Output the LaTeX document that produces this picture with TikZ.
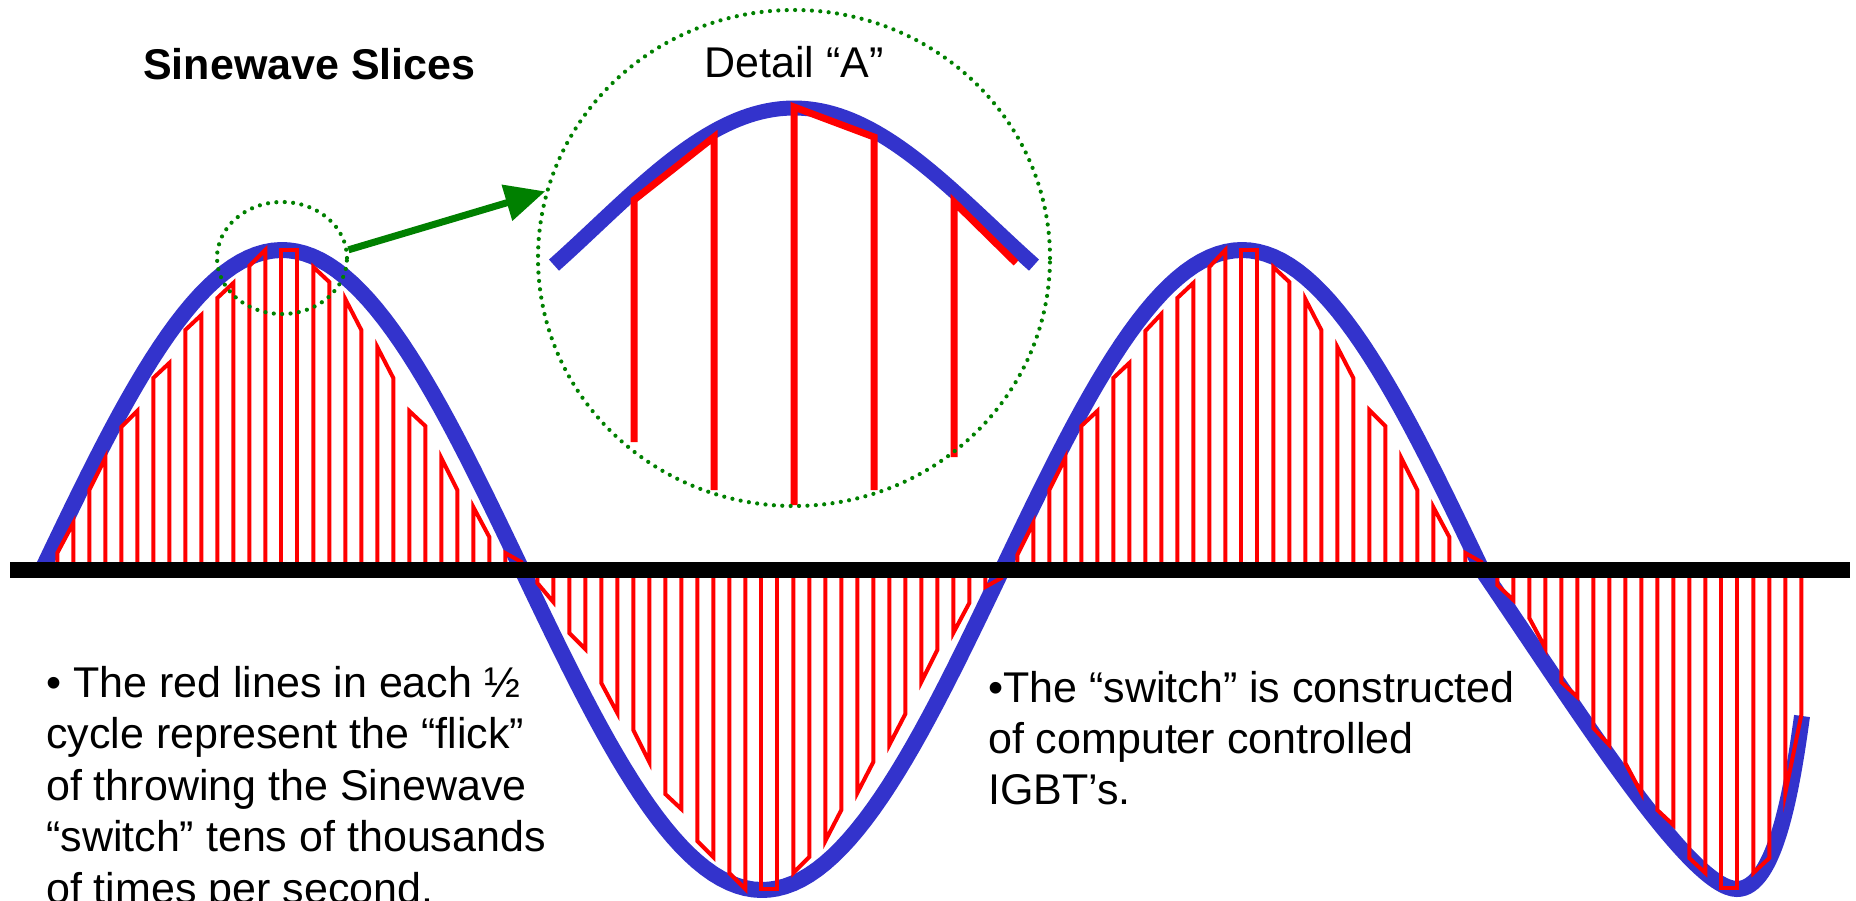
\documentclass[tikz,border=0pt]{standalone}
\usepackage{fontspec}
\setmainfont{Liberation Sans}
\usepackage{tikz}
\usetikzlibrary{shapes.geometric, arrows.meta, positioning}

\definecolor{waveblue}{RGB}{51,51,204}
\definecolor{zoomgreen}{RGB}{0,128,0}
\definecolor{pulsered}{RGB}{255,0,0}

\begin{document}
\begin{tikzpicture}[
  x=1pt, y=-1pt,
  wave/.style      = {draw=waveblue, line width=16pt},
  detailwave/.style = {draw=waveblue, line width=15pt},
  pulse/.style     = {draw=pulsered, line width=4pt},
  bigpulse/.style  = {draw=pulsered, line width=7pt},
  axisline/.style  = {draw=black, line width=16pt},
  zoomring/.style  = {draw=zoomgreen, ellipse, line width=4.2pt,
                      dash pattern=on 0pt off 8.4pt, line cap=round, inner sep=0pt},
  zoomarr/.style   = {draw=zoomgreen, line width=7pt,
                      -{Triangle[length=40pt, width=36pt]}},
  titletext/.style = {font=\fontsize{43}{52}\selectfont\bfseries, inner sep=0pt},
  labeltext/.style = {font=\fontsize{43}{52}\selectfont, inner sep=0pt},
  bodytext/.style  = {font=\fontsize{43}{52}\selectfont, anchor=base west, inner sep=0pt},
]
\useasboundingbox (0,0) rectangle (1856,900);

%% ── TITULOS ───────────────────────────────────────────────────────────────
\node[titletext, anchor=base west] (title) at (143,79) {Sinewave Slices};
\node[labeltext, anchor=base] (detailtitle) at (794,77) {Detail “A”};

%% ── ONDA SENOIDAL ─────────────────────────────────────────────────────────
\draw[wave] plot[domain=40:1482, samples=181] (\x, {570-320*sin(0.375*(\x-42))})
      .. controls (1580,714) and (1690,889) .. (1737,889)
      .. controls (1775,889) and (1792,790) .. (1802,716);

%% ── REBANADAS (pares de lineas rojas) ─────────────────────────────────────
\foreach \a/\b [count=\j from 0] in {
    17/47, 80/112, 143/159, 192/207, 240/255, 272/287, 304/320, 320/320,
    303/288, 271/240, 223/192, 159/144, 112/80, 63/33, 17/8,
    -13/-32, -63/-79, -113/-143, -160/-192, -224/-239, -271/-287, -303/-319,
    -319/-319, -303/-287, -271/-240, -223/-192, -175/-144, -112/-80, -63/-33, -17/-8,
    15/47, 80/112, 144/159, 192/207, 239/256, 272/287, 303/320, 320/320,
    303/288, 271/240, 223/192, 160/144, 112/80, 63/33, 17/8,
    -15/-30, -48/-78, -112/-127, -158/-175, -193/-223, -240/-255, -288/-303,
    -318/-318, -303/-288, -223/-145}
{
  \pgfmathsetmacro{\xl}{57.3+32*\j}
  \pgfmathsetmacro{\xr}{\xl+16}
  \draw[pulse] (\xl,570) -- (\xl,{570-(\a)}) -- (\xr,{570-(\b)}) -- (\xr,570);
}

%% ── EJE ───────────────────────────────────────────────────────────────────
\draw[axisline] (10,570) -- (1850,570);

%% ── DETALLE "A" ───────────────────────────────────────────────────────────
\draw[detailwave] plot[domain=554:1034, samples=80]
      (\x, {108+118.7*(1-cos(deg((\x-794)/126.3)))});
\draw[bigpulse] (634,442) -- (634,200) -- (714,137) -- (714,490);
\draw[bigpulse] (794,505) -- (794,107) -- (874,137) -- (874,490);
\draw[bigpulse] (954,457) -- (954,202) -- (1016,263);

\node[zoomring, minimum width=130pt, minimum height=112pt] (spot)   at (282,258) {};
\node[zoomring, minimum width=512pt, minimum height=496pt] (detail) at (794,258) {};

\draw[zoomarr] (spot.7) -- (detail.165);

%% ── TEXTOS ────────────────────────────────────────────────────────────────
\foreach \txt [count=\i] in {{• The red lines in each ½}, {cycle represent the “flick”},
    {of throwing the Sinewave}, {“switch” tens of thousands}, {of times per second.}}
  \node[bodytext] (left\i) at (46,{697+51.5*(\i-1)}) {\txt};

\foreach \txt [count=\i] in {{•The “switch” is constructed}, {of computer controlled},
    {IGBT’s.}}
  \node[bodytext] (right\i) at (988,{702+51*(\i-1)}) {\txt};

\end{tikzpicture}
\end{document}
